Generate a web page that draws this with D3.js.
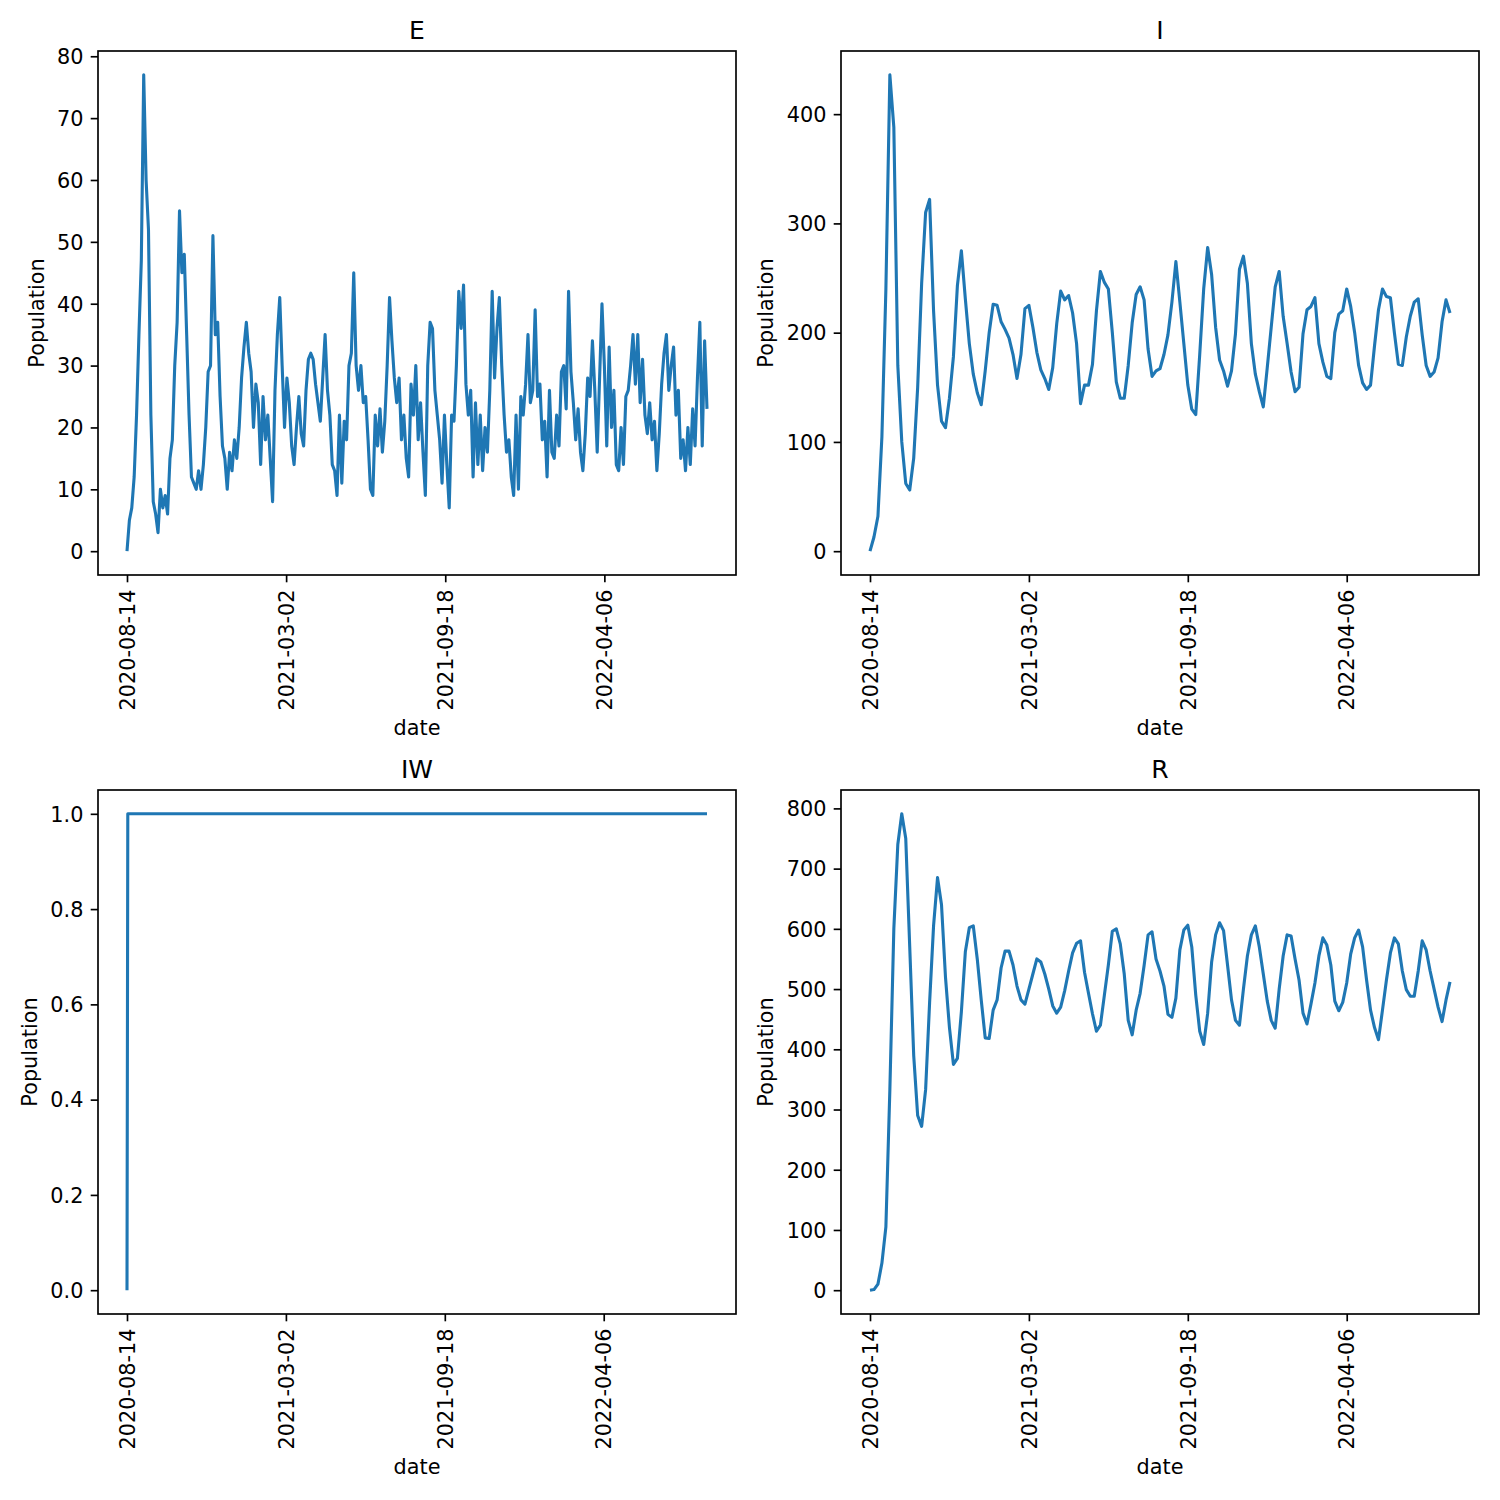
<!DOCTYPE html>
<html>
<head>
<meta charset="utf-8">
<script src="https://cdn.jsdelivr.net/npm/d3@7"></script>
<style>
  body { margin: 0; background: #fff; }
  text { font-family: "DejaVu Sans", sans-serif; fill: #000; }
</style>
</head>
<body>
<svg id="fig" width="1500" height="1500"></svg>
<script>
// ---- data ----
var startDate = "2020-08-14";
var tickLabels = ["2020-08-14", "2021-03-02", "2021-09-18", "2022-04-06"];

// E sampled every 3 days
var eStep = 3;
var eValues = [
	0, 5, 7, 12, 22, 35, 47, 77, 60, 52,
	22, 8, 6, 3, 10, 7, 9, 6, 15, 18,
	30, 37, 55, 45, 48, 35, 22, 12, 11, 10,
	13, 10, 14, 20, 29, 30, 51, 35, 37, 25,
	17, 15, 10, 16, 13, 18, 15, 20, 28, 33,
	37, 32, 29, 20, 27, 24, 14, 25, 18, 22,
	15, 8, 26, 35, 41, 30, 20, 28, 24, 17,
	14, 20, 25, 19, 17, 26, 31, 32, 31, 27,
	24, 21, 28, 35, 26, 22, 14, 13, 9, 22,
	11, 21, 18, 30, 32, 45, 30, 26, 30, 24,
	25, 18, 10, 9, 22, 17, 23, 16, 21, 30,
	41, 34, 28, 24, 28, 18, 22, 15, 12, 27,
	22, 30, 18, 24, 16, 9, 30, 37, 36, 26,
	22, 18, 11, 22, 14, 7, 22, 21, 30, 42,
	36, 43, 27, 22, 26, 12, 24, 14, 22, 13,
	20, 16, 26, 42, 28, 36, 41, 30, 22, 16,
	18, 12, 9, 22, 10, 25, 22, 27, 35, 24,
	26, 39, 25, 27, 18, 21, 12, 26, 16, 15,
	22, 17, 29, 30, 23, 42, 29, 24, 18, 23,
	16, 13, 19, 28, 25, 34, 26, 16, 28, 40,
	30, 17, 33, 20, 26, 14, 13, 20, 14, 25,
	26, 30, 35, 27, 35, 24, 31, 22, 19, 24,
	18, 21, 13, 19, 27, 32, 35, 26, 30, 33,
	22, 26, 15, 18, 13, 20, 14, 23, 17, 28,
	37, 17, 34, 23
];

// I sampled every 5 days
var iStep = 5;
var iValues = [
	0, 13, 32, 105, 240, 436, 388, 170, 100, 62,
	56, 85, 150, 245, 310, 322, 220, 152, 119, 113,
	140, 178, 243, 275, 231, 190, 162, 145, 134, 165,
	200, 226, 225, 210, 203, 195, 180, 158, 180, 222,
	225, 205, 182, 166, 158, 148, 168, 208, 238, 230,
	234, 218, 190, 135, 152, 152, 171, 220, 256, 246,
	240, 200, 155, 140, 140, 170, 209, 235, 242, 230,
	185, 160, 165, 167, 180, 198, 228, 265, 228, 190,
	152, 130, 125, 180, 240, 278, 253, 205, 175, 165,
	151, 165, 199, 258, 270, 245, 190, 162, 146, 132,
	168, 205, 242, 256, 215, 190, 164, 146, 150, 199,
	221, 224, 232, 190, 173, 160, 158, 200, 217, 220,
	240, 224, 200, 170, 154, 148, 152, 188, 221, 240,
	233, 232, 200, 171, 170, 196, 215, 228, 231, 198,
	170, 160, 164, 177, 210, 230, 218
];

// IW: day offsets and values
var iwDays = [0, 1, 730];
var iwValues = [0, 1, 1];

// R sampled every 5 days
var rStep = 5;
var rValues = [
	0, 1, 10, 45, 105, 333, 600, 740, 791, 750,
	570, 390, 290, 272, 333, 477, 605, 685, 640, 520,
	436, 375, 385, 462, 562, 602, 605, 550, 482, 419,
	418, 465, 482, 535, 563, 563, 540, 505, 482, 475,
	500, 525, 550, 545, 525, 500, 472, 460, 470, 497,
	530, 560, 576, 580, 528, 493, 459, 430, 440, 490,
	540, 596, 600, 575, 525, 448, 424, 465, 493, 539,
	590, 595, 550, 530, 505, 458, 453, 485, 565, 598,
	606, 570, 490, 430, 408, 460, 545, 590, 610, 597,
	540, 482, 448, 440, 500, 555, 590, 605, 570, 525,
	480, 448, 435, 500, 555, 590, 588, 550, 515, 460,
	442, 475, 510, 555, 585, 573, 540, 480, 464, 478,
	510, 558, 585, 598, 570, 515, 465, 436, 416, 465,
	515, 560, 585, 575, 530, 499, 488, 488, 530, 580,
	565, 530, 500, 470, 446, 482, 512
];

var eTicks = [0, 10, 20, 30, 40, 50, 60, 70, 80];
var iTicks = [0, 100, 200, 300, 400];
var iwTicks = [0, 0.2, 0.4, 0.6, 0.8, 1.0];
var rTicks = [0, 100, 200, 300, 400, 500, 600, 700, 800];

// ---- drawing ----
var parseDate = d3.timeParse("%Y-%m-%d");
var start = parseDate(startDate);

function stepSeries(step, values) {
	return values.map(function(v, i) {
		return { date: d3.timeDay.offset(start, i * step), value: v };
	});
}
function daySeries(days, values) {
	return values.map(function(v, i) {
		return { date: d3.timeDay.offset(start, days[i]), value: v };
	});
}

var panels = [
	{ title: "E", data: stepSeries(eStep, eValues), ticks: eTicks, fmt: d3.format("d"), col: 0, row: 0 },
	{ title: "I", data: stepSeries(iStep, iValues), ticks: iTicks, fmt: d3.format("d"), col: 1, row: 0 },
	{ title: "IW", data: daySeries(iwDays, iwValues), ticks: iwTicks, fmt: d3.format(".1f"), col: 0, row: 1 },
	{ title: "R", data: stepSeries(rStep, rValues), ticks: rTicks, fmt: d3.format("d"), col: 1, row: 1 }
];

var svg = d3.select("#fig");
svg.append("rect").attr("width", 1500).attr("height", 1500).attr("fill", "#fff");

var colLeft = [98, 841], rowTop = [51, 790];
var width = 638, height = 524;
var tickLen = 7.3, tickPad = 7.3, fontSize = 20.8;

panels.forEach(function(p) {
	var g = svg.append("g")
		.attr("transform", "translate(" + colLeft[p.col] + "," + rowTop[p.row] + ")");

	// matplotlib-style 5% margins
	var tExt = d3.extent(p.data, function(d) { return +d.date; });
	var tPad = (tExt[1] - tExt[0]) * 0.05;
	var x = d3.scaleTime()
		.domain([new Date(tExt[0] - tPad), new Date(tExt[1] + tPad)])
		.range([0, width]);
	var yExt = d3.extent(p.data, function(d) { return d.value; });
	var yPad = (yExt[1] - yExt[0]) * 0.05;
	var y = d3.scaleLinear()
		.domain([yExt[0] - yPad, yExt[1] + yPad])
		.range([height, 0]);

	var line = d3.line()
		.x(function(d) { return x(d.date); })
		.y(function(d) { return y(d.value); });

	g.append("path")
		.datum(p.data)
		.attr("fill", "none")
		.attr("stroke", "#1f77b4")
		.attr("stroke-width", 3.1)
		.attr("stroke-linejoin", "round")
		.attr("d", line);

	// X axis
	var xAxis = g.append("g")
		.attr("transform", "translate(0," + height + ")")
		.call(d3.axisBottom(x)
			.tickValues(tickLabels.map(parseDate))
			.tickFormat(d3.timeFormat("%Y-%m-%d"))
			.tickSize(tickLen)
			.tickPadding(tickPad));
	xAxis.select(".domain").remove();
	xAxis.selectAll("line").attr("stroke", "#000").attr("stroke-width", 1.67);
	xAxis.selectAll("text")
		.attr("font-size", fontSize)
		.attr("x", 0).attr("y", 0)
		.attr("dy", "0.35em")
		.attr("text-anchor", "end")
		.attr("transform", "translate(0," + (tickLen + tickPad) + ") rotate(-90)");

	// Y axis
	var yAxis = g.append("g")
		.call(d3.axisLeft(y)
			.tickValues(p.ticks)
			.tickFormat(p.fmt)
			.tickSize(tickLen)
			.tickPadding(tickPad));
	yAxis.select(".domain").remove();
	yAxis.selectAll("line").attr("stroke", "#000").attr("stroke-width", 1.67);
	yAxis.selectAll("text").attr("font-size", fontSize).attr("dy", "0.35em");

	var maxW = 0;
	yAxis.selectAll("text").each(function() {
		maxW = Math.max(maxW, this.getComputedTextLength());
	});

	// frame
	g.append("rect")
		.attr("width", width).attr("height", height)
		.attr("fill", "none")
		.attr("stroke", "#000")
		.attr("stroke-width", 1.67);

	// labels
	var maxXW = 0;
	xAxis.selectAll("text").each(function() {
		maxXW = Math.max(maxXW, this.getComputedTextLength());
	});
	g.append("text")
		.attr("x", width / 2)
		.attr("y", height + tickLen + tickPad + maxXW + 8.3 + fontSize * 0.76)
		.attr("text-anchor", "middle")
		.attr("font-size", fontSize)
		.text("date");

	g.append("text")
		.attr("transform", "translate(" + (-(tickLen + tickPad + maxW + 8.3 + 4.9)) + "," + (height / 2) + ") rotate(-90)")
		.attr("text-anchor", "middle")
		.attr("font-size", fontSize)
		.text("Population");

	g.append("text")
		.attr("x", width / 2)
		.attr("y", -12.5)
		.attr("text-anchor", "middle")
		.attr("font-size", 25)
		.text(p.title);
});
</script>
</body>
</html>
